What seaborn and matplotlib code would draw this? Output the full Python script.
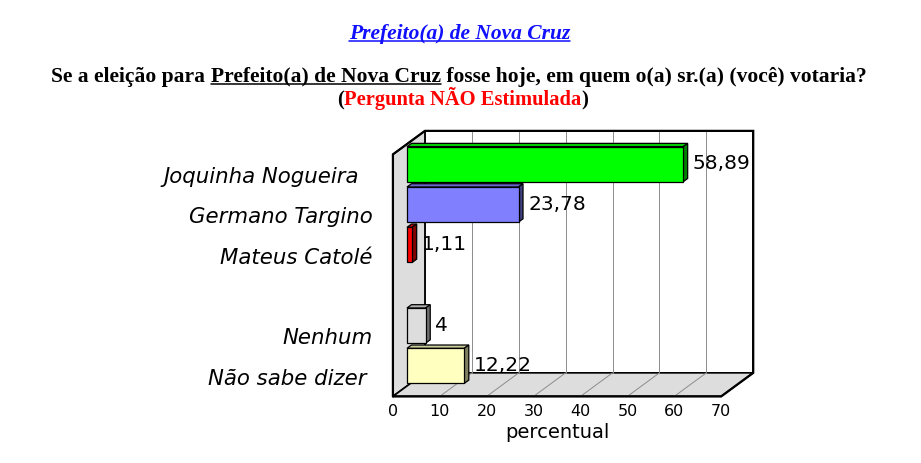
import matplotlib
matplotlib.use("Agg")
import matplotlib.pyplot as plt
import matplotlib.transforms as mtrans
from matplotlib.patches import Polygon
from matplotlib.lines import Line2D
import seaborn as sns
import pandas as pd
import numpy as np

# ---------------- data ----------------
candidatos = ["Joquinha Nogueira", "Germano Targino", "Mateus Catolé", "Nenhum", "Não sabe dizer"]
percentuais = [58.89, 23.78, 1.11, 4.00, 12.22]
rotulos_valor = ["58,89", "23,78", "1,11", "4", "12,22"]
rotulos_categoria = ["Joquinha Nogueira  ", "Germano Targino", "Mateus Catolé", "Nenhum", "Não sabe dizer "]
ordem = ["Joquinha Nogueira", "Germano Targino", "Mateus Catolé", " ", "Nenhum", "Não sabe dizer"]
cores = ["#00ff00", "#8080ff", "#ff0000", "#dddddd", "#ffffc0"]
ticks_x = [0, 10, 20, 30, 40, 50, 60, 70]
titulo = "Prefeito(a) de Nova Cruz"
pergunta_a = "Se a eleição para "
pergunta_b = "Prefeito(a) de Nova Cruz"
pergunta_c = " fosse hoje, em quem o(a) sr.(a) (você) votaria?"
nota = "Pergunta NÃO Estimulada"
eixo_x = "percentual"

W, H = 921, 463
sns.set_style("white")
plt.rcParams["font.family"] = ["DejaVu Sans"]
plt.rcParams["text.color"] = "black"

df = pd.DataFrame({"candidato": candidatos, "percentual": percentuais})
palette = dict(zip(candidatos, cores))

fig = plt.figure(figsize=(W / 100, H / 100), dpi=100)
ax = fig.add_axes([0, 0, 1, 1])
sns.barplot(data=df, x="percentual", y="candidato", hue="candidato", order=ordem,
            hue_order=candidatos, palette=palette, width=0.87, edgecolor="black",
            linewidth=0.9, legend=False, ax=ax, saturation=1)

# scale: pixels per unit
PX, PY = 4.69, 40.33
X0PIX, Y0PIX = 407, 164.2
x0 = -X0PIX / PX
ax.set_xlim(x0, x0 + W / PX)
ax.set_ylim((H - Y0PIX) / PY, -Y0PIX / PY)

ypos = list(ax.get_yticks())
ynames = [t.get_text() for t in ax.get_yticklabels()]
ax.axis("off")

# 3D depth geometry
DX, DY = 32 / PX, -23.5 / PY
FRONT, BACK, BARD = -0.44, 0.56, 0.14
VMIN, VMAX = ticks_x[0], ticks_x[-1]
PTOP, PBOT = -0.5, len(ordem) - 0.5

def at(v, p, d):
    return (v + d * DX, p + d * DY)

wall_fc = "#dddddd"
# back wall
ax.add_patch(Polygon([at(VMIN, PTOP, BACK), at(VMAX, PTOP, BACK), at(VMAX, PBOT, BACK), at(VMIN, PBOT, BACK)],
                     closed=True, facecolor="white", edgecolor="black", lw=1.2, zorder=1))
# left wall
ax.add_patch(Polygon([at(VMIN, PTOP, FRONT), at(VMIN, PBOT, FRONT), at(VMIN, PBOT, BACK), at(VMIN, PTOP, BACK)],
                     closed=True, facecolor=wall_fc, edgecolor="black", lw=1.2, zorder=1))
# floor
ax.add_patch(Polygon([at(VMIN, PBOT, FRONT), at(VMAX, PBOT, FRONT), at(VMAX, PBOT, BACK), at(VMIN, PBOT, BACK)],
                     closed=True, facecolor=wall_fc, edgecolor="black", lw=1.2, zorder=1))
# gridlines
for v in ticks_x[1:-1]:
    a, b = at(v, PTOP, BACK), at(v, PBOT, BACK)
    ax.plot([a[0], b[0]], [a[1], b[1]], color="#8c8c8c", lw=0.7, zorder=1.5)
    c = at(v, PBOT, FRONT)
    ax.plot([c[0], b[0]], [c[1], b[1]], color="#8c8c8c", lw=0.7, zorder=1.5)
# outer thick outline
outline = [at(VMIN, PBOT, FRONT), at(VMIN, PTOP, FRONT), at(VMIN, PTOP, BACK), at(VMAX, PTOP, BACK),
           at(VMAX, PBOT, BACK), at(VMAX, PBOT, FRONT), at(VMIN, PBOT, FRONT)]
ax.plot([q[0] for q in outline], [q[1] for q in outline], color="black", lw=1.6, zorder=2,
        solid_joinstyle="miter")

def shade(c, f):
    r = np.array(matplotlib.colors.to_rgb(c))
    return tuple(np.clip(r * f, 0, 1))

bdx, bdy = BARD * DX, BARD * DY
for patch in ax.patches:
    if not isinstance(patch, matplotlib.patches.Rectangle):
        continue
    w = patch.get_width()
    if not np.isfinite(w) or w <= 0:
        continue
    x, y, h = patch.get_x(), patch.get_y(), patch.get_height()
    fc = patch.get_facecolor()[:3]
    patch.set_zorder(4)
    top = Polygon([(x, y), (x + w, y), (x + w + bdx, y + bdy), (x + bdx, y + bdy)], closed=True,
                  facecolor=shade(fc, 0.8), edgecolor="black", lw=0.9, zorder=3)
    side = Polygon([(x + w, y), (x + w, y + h), (x + w + bdx, y + h + bdy), (x + w + bdx, y + bdy)], closed=True,
                   facecolor=shade(fc, 0.5), edgecolor="black", lw=0.9, zorder=3)
    ax.add_patch(top)
    ax.add_patch(side)
    p = y + h / 2
    name = ordem[int(round(p))]
    i = candidatos.index(name)
    ax.text(x + w + bdx, p, rotulos_valor[i], ha="left", va="center", fontsize=14.5, color="black",
            transform=mtrans.offset_copy(ax.transData, fig, x=5, y=0.5, units="dots"), zorder=5)

# category labels
for p, name in zip(ypos, ynames):
    if name not in candidatos:
        continue
    i = candidatos.index(name)
    lx, ly = at(VMIN, p, FRONT)
    ax.text(lx, ly, rotulos_categoria[i], ha="right", va="center", fontsize=15.3, style="italic",
            color="black", transform=mtrans.offset_copy(ax.transData, fig, x=-20, y=-2.5, units="dots"))

# x tick labels on front floor edge
for v in ticks_x:
    tx, ty = at(v, PBOT, FRONT)
    ax.text(tx, ty, str(v), ha="center", va="center", fontsize=11.5, color="black",
            transform=mtrans.offset_copy(ax.transData, fig, x=0, y=-15, units="dots"))
cx, cy = at((VMIN + VMAX) / 2, PBOT, FRONT)
ax.text(cx, cy, eixo_x, ha="center", va="center", fontsize=14, color="black",
        transform=mtrans.offset_copy(ax.transData, fig, x=0, y=-36.5, units="dots"))

# titles (pixel positions from top)
renderer = fig.canvas.get_renderer()
ident = mtrans.IdentityTransform()

def width_of(s, **kw):
    t1 = fig.text(0, 0, s + "|", transform=ident, **kw)
    t2 = fig.text(0, 0, "|", transform=ident, **kw)
    wd = t1.get_window_extent(renderer).width - t2.get_window_extent(renderer).width
    t1.remove(); t2.remove()
    return wd

def linha(partes, cx, base, **kw):
    ws = [width_of(s, **kw) for s, _, _ in partes]
    x = cx - sum(ws) / 2
    for (s, cor, sub), wd in zip(partes, ws):
        fig.text(x, H - base, s, transform=ident, color=cor, ha="left", va="baseline", **kw)
        if sub:
            fig.add_artist(Line2D([x, x + wd], [H - base - 2.6] * 2, transform=ident, color=cor, lw=1.1))
        x += wd

serif = dict(family=["Liberation Serif", "DejaVu Serif"], weight="bold")
linha([(titulo, "#1010ff", True)], 459.5, 38.7, style="italic", fontsize=15.5, **serif)
linha([(pergunta_a, "black", False), (pergunta_b, "black", True), (pergunta_c, "black", False)],
      459, 81.7, fontsize=15.5, **serif)
linha([("(", "black", False), (nota, "#ff0000", False), (")", "black", False)], 462.5, 105.5,
      fontsize=14.8, **serif)

fig.savefig("out.png", dpi=100)
